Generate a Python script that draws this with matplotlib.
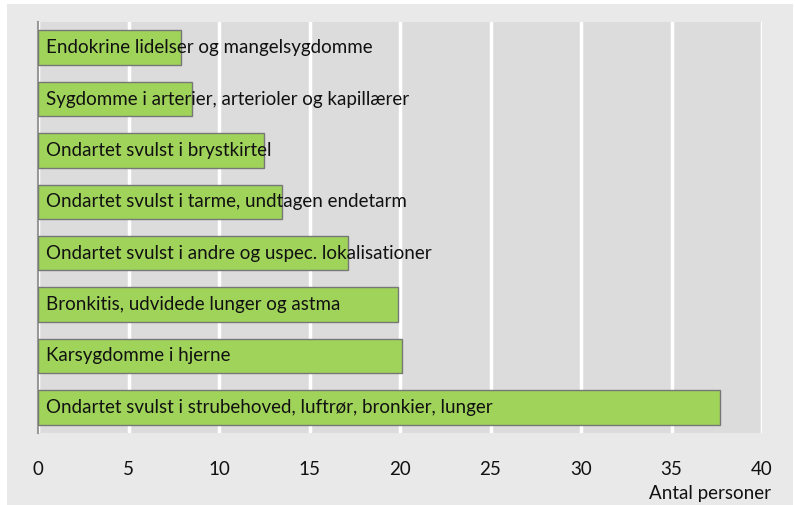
import matplotlib.pyplot as plt
from matplotlib.patches import Rectangle

# data
causes = [
    "Endokrine lidelser og mangelsygdomme",
    "Sygdomme i arterier, arterioler og kapillærer",
    "Ondartet svulst i brystkirtel",
    "Ondartet svulst i tarme, undtagen endetarm",
    "Ondartet svulst i andre og uspec. lokalisationer",
    "Bronkitis, udvidede lunger og astma",
    "Karsygdomme i hjerne",
    "Ondartet svulst i strubehoved, luftrør, bronkier, lunger",
]
persons = [7.9, 8.5, 12.5, 13.5, 17.1, 19.9, 20.1, 37.7]
x_ticks = [0, 5, 10, 15, 20, 25, 30, 35, 40]

plt.rcParams["font.family"] = ["Lato", "DejaVu Sans"]
FS = 13.5

fig = plt.figure(figsize=(7.95, 5.05), dpi=100, facecolor="white")
# light grey panel with a thin white margin
fig.patches.append(Rectangle((7 / 795, 0), 1 - 9 / 795, 1 - 4 / 505,
                             transform=fig.transFigure, facecolor="#e9e9e9",
                             edgecolor="none", zorder=-10))

ax = fig.add_axes([38 / 795, 1 - 433 / 505, 724 / 795, 411 / 505])
ax.set_facecolor("#dcdcdc")

y = list(range(len(causes)))
ax.barh(y, persons, height=0.67, color="#a0d35a", edgecolor="#777777",
        linewidth=1, zorder=3)
for yi, label in zip(y, causes):
    ax.text(0.45, yi, label, va="center", ha="left", fontsize=FS,
            color="#111111", zorder=4)

ax.set_xlim(0, 40)
ax.set_ylim(len(causes) - 0.5, -0.5)
ax.set_xticks(x_ticks)
ax.set_xticklabels([str(t) for t in x_ticks], fontsize=FS, color="#111111")
ax.set_yticks([])
ax.tick_params(axis="x", length=0, pad=20)
ax.grid(axis="x", color="white", linewidth=2.5, zorder=1)
ax.set_axisbelow(True)
for side in ["top", "right", "bottom"]:
    ax.spines[side].set_visible(False)
ax.spines["left"].set_color("#999999")
ax.spines["left"].set_linewidth(1.5)

fig.text(771 / 795, 1 - 493 / 505, "Antal personer", ha="right", va="center",
         fontsize=FS, color="#111111")

fig.savefig("out.png", dpi=100, facecolor=fig.get_facecolor())
